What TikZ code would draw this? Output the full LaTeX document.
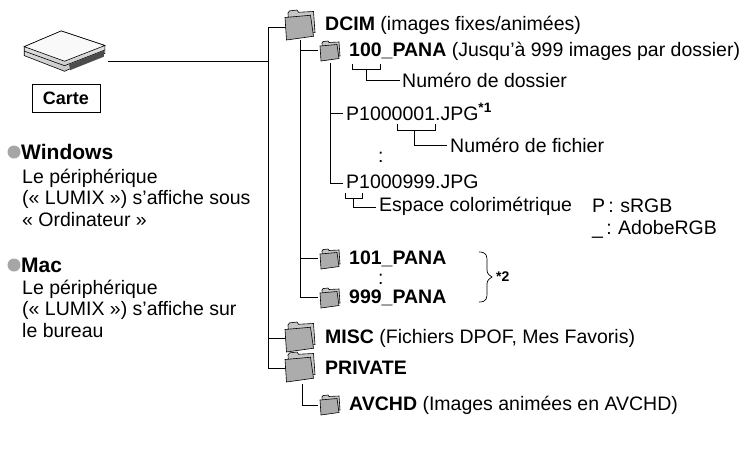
\documentclass[tikz,border=0pt]{standalone}
\usepackage{fontspec}
\setmainfont{Liberation Sans}
\tikzset{
  folder/.pic={
    \draw[line width=0.6pt,fill=gray!45] (3,18) -- (2,2) -- (3,0.6) -- (8,0) -- (9,1.5) -- (19,1) -- (20,15) -- cycle;
    \draw[line width=0.6pt,fill=gray!65] (1,20) -- (0,5) -- (17,3.5) -- (19,17.5) -- cycle;
  },
  txt/.style={anchor=west,inner sep=0pt,font=\fontsize{19.5}{22}\selectfont},
  tree/.style={line width=0.8pt}
}
\begin{document}
\begin{tikzpicture}[x=1pt,y=-1pt]
\useasboundingbox (0,0) rectangle (742,448);
% card
\begin{scope}[shift={(-6,-6)},scale=1.12]
\shade[top color=gray!10,bottom color=gray!45,draw=black,line width=0.6pt] (27,47) -- (60,33) -- (99,46) -- (99,53) -- (63,69) -- (27,55) -- cycle;
\draw[line width=0.6pt,fill=gray!5] (27,47) -- (60,33) -- (99,46) -- (63,60) -- cycle;
\draw[line width=0.6pt] (27,51) -- (63,64) -- (99,50);
\fill[gray!60!black] (67,63) -- (98,50.5) -- (98,56) -- (68,68) -- cycle;
\end{scope}
\coordinate (cardR) at (108,61);
\node[draw,line width=1pt,minimum width=68,minimum height=28,inner sep=0pt,font=\fontsize{18}{20}\selectfont\bfseries] (carte) at (66,98) {Carte};
% left texts
\fill[gray!70] (14,152) circle (6.5);
\node[txt,font=\fontsize{21}{24}\selectfont\bfseries] (win) at (21,152) {Windows};
\node[txt] (w1) at (22,178) {Le périphérique};
\node[txt] (w2) at (22,199) {(« LUMIX ») s’affiche sous};
\node[txt] (w3) at (22,220) {« Ordinateur »};
\fill[gray!70] (14,265) circle (6.5);
\node[txt,font=\fontsize{21}{24}\selectfont\bfseries] (mac) at (21,265) {Mac};
\node[txt] (m1) at (22,289) {Le périphérique};
\node[txt] (m2) at (22,310) {(« LUMIX ») s’affiche sur};
\node[txt] (m3) at (22,331) {le bureau};
% main trunk
\coordinate (t0) at (268,27);
\coordinate (t1) at (268,368);
\draw[tree] (cardR) -- (268,61);
\draw[tree] (t0) -- (t1) -- (286,368);
\draw[tree] (t0) -- (286,27);
\draw[tree] (268,338) -- (286,338);
% DCIM
\pic[scale=1.5] at (285,10) {folder};
\node[txt] (dcim) at (325,25) {\textbf{DCIM} (images fixes/animées)};
\draw[tree] (300,40) -- (300,297) -- (318,297);
\draw[tree] (300,50) -- (318,50);
\draw[tree] (300,258) -- (318,258);
\pic at (320,41) {folder};
\node[txt] (p100) at (349,51) {\textbf{100\_PANA} (Jusqu’à 999 images par dossier)};
\draw[tree] (330,63) -- (330,183) -- (343,183);
\draw[tree] (330,113) -- (343,113);
\draw[tree] (352,64) -- (352,69) -- (380,69) -- (380,64);
\draw[tree] (366,69) -- (366,80) -- (400,80);
\node[txt] (nd) at (402,80) {Numéro de dossier};
\node[txt] (f1) at (346,112) {P1000001.JPG\textsuperscript{\textbf{*1}}};
\draw[tree] (397,124) -- (397,130) -- (435,130) -- (435,124);
\draw[tree] (414,130) -- (414,145) -- (447,145);
\node[txt] (nf) at (450,145) {Numéro de fichier};
\node[txt] (d1) at (378,157) {:};
\node[txt] (f2) at (346,182) {P1000999.JPG};
\draw[tree] (345,193) -- (345,198) -- (362,198) -- (362,193);
\draw[tree] (353,198) -- (353,207) -- (376,207);
\node[txt] (ec) at (379,206) {Espace colorimétrique};
\node[txt] (srgb) at (592,206) {P\,:\,\,sRGB};
\node[txt] (ad) at (592,229) {\_\,:\,\,AdobeRGB};
% 101 - 999
\pic at (320,249) {folder};
\node[txt] (p101) at (349,259) {\textbf{101\_PANA}};
\node[txt] (d2) at (378,279) {:};
\pic at (320,288) {folder};
\node[txt] (p999) at (349,298) {\textbf{999\_PANA}};
\draw[line width=0.7pt] (479,252) .. controls (487,252) and (487,256) .. (487,262) -- (487,270) .. controls (487,274) and (490,276) .. (492,277) .. controls (490,278) and (487,280) .. (487,284) -- (487,292) .. controls (487,298) and (487,302) .. (479,302);
\node[txt,font=\fontsize{14}{16}\selectfont\bfseries] (s2) at (496,277) {*2};
% MISC / PRIVATE
\pic[scale=1.5] at (285,322) {folder};
\node[txt] (misc) at (325,338) {\textbf{MISC} (Fichiers DPOF, Mes Favoris)};
\pic[scale=1.5] at (285,352) {folder};
\node[txt] (priv) at (325,368) {\textbf{PRIVATE}};
\draw[tree] (302,384) -- (302,405) -- (318,405);
\pic at (320,395) {folder};
\node[txt] (avchd) at (349,405) {\textbf{AVCHD} (Images animées en AVCHD)};
\end{tikzpicture}
\end{document}
